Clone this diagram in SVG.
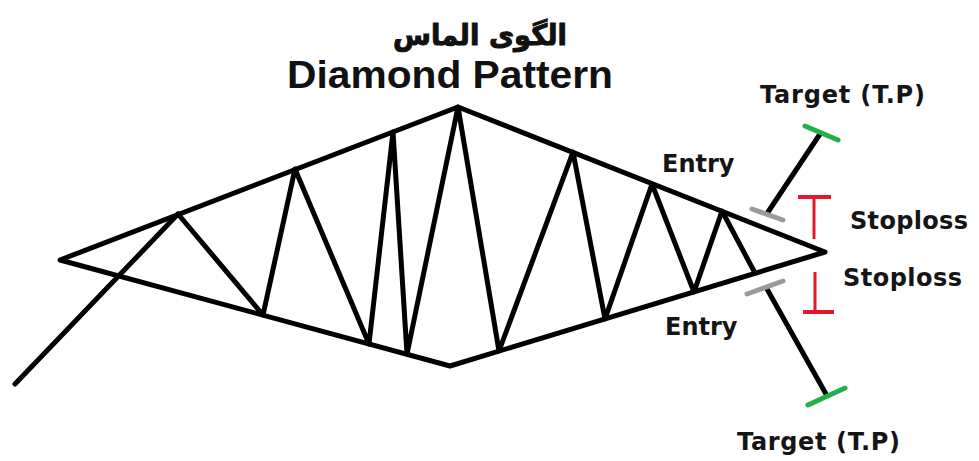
<svg xmlns="http://www.w3.org/2000/svg" width="979" height="461" viewBox="0 0 979 461">
<style>
.ln{fill:none;stroke:#000;stroke-width:5;stroke-linejoin:round;stroke-linecap:round}
.gray{stroke:#9a9a9a;stroke-width:5;stroke-linecap:round}
.green{stroke:#22b04a;stroke-width:5;stroke-linecap:round}
.red{stroke:#e3192b;stroke-width:3}
.redh{stroke:#e3192b;stroke-width:4}
.lbl{font-family:"DejaVu Sans",sans-serif;font-weight:bold;font-size:24px;fill:#151515}
.title{font-family:"Liberation Sans",Arial,sans-serif;font-weight:bold;font-size:39px;fill:#111}
.fa{font-family:"DejaVu Sans","Noto Sans",sans-serif;font-weight:bold;font-size:29px;fill:#111;stroke:#111;stroke-width:1}
</style>
<rect width="979" height="461" fill="#fff"/>
<g id="title">
<text class="fa" x="480" y="45" text-anchor="middle" direction="rtl" textLength="174" lengthAdjust="spacingAndGlyphs">الگوی الماس</text>
<text class="title" x="287" y="88" textLength="326" lengthAdjust="spacingAndGlyphs">Diamond Pattern</text>
</g>
<g id="connectors">
<polygon id="diamond" class="ln" points="60,260 458,107 825,252 450,366"/>
<polyline id="entry-trend" class="ln" points="15,384 178,214"/>
<polyline id="zigzag" class="ln" points="178,214 263,315 295,169 369,344 393,132 407,354 458,107 499,351 573,152 605,319 652,184 694,292 722,211 755,273"/>
<line id="target-down" class="ln" x1="767" y1="289" x2="826" y2="394"/>
<line id="target-up" class="ln" x1="768" y1="212" x2="820" y2="134"/>
</g>
<g id="entry-up">
<line class="gray" x1="752" y1="209" x2="783" y2="220"/>
<text class="lbl" x="662" y="172">Entry</text>
</g>
<g id="target-top">
<line class="green" x1="805" y1="126" x2="838" y2="140"/>
<text class="lbl" x="760" y="103" textLength="165" lengthAdjust="spacing">Target (T.P)</text>
</g>
<g id="stoploss-up">
<line class="redh" x1="798" y1="197" x2="831" y2="197"/>
<line class="red" x1="814" y1="197" x2="814" y2="239"/>
<text class="lbl" x="850" y="229" textLength="118" lengthAdjust="spacing">Stoploss</text>
</g>
<g id="stoploss-down">
<line class="red" x1="815" y1="272" x2="815" y2="312"/>
<line class="redh" x1="803" y1="312" x2="834" y2="312"/>
<text class="lbl" x="843" y="286" textLength="119" lengthAdjust="spacing">Stoploss</text>
</g>
<g id="entry-down">
<line class="gray" x1="747" y1="294" x2="783" y2="281"/>
<text class="lbl" x="665" y="335">Entry</text>
</g>
<g id="target-bottom">
<line class="green" x1="808" y1="405" x2="845" y2="388"/>
<text class="lbl" x="737" y="450" textLength="163" lengthAdjust="spacing">Target (T.P)</text>
</g>
</svg>
